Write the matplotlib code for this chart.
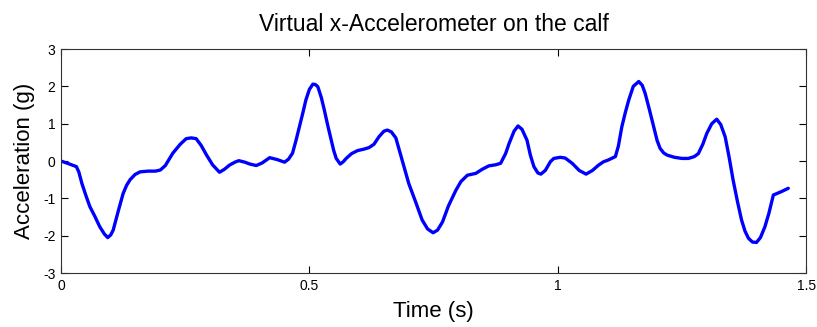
import matplotlib.pyplot as plt
import numpy as np

plt.rcParams['font.family'] = ['Liberation Sans', 'DejaVu Sans']
plt.rcParams['axes.unicode_minus'] = False

# values
time_s = [0.0, 0.015, 0.031, 0.036, 0.042, 0.05, 0.058, 0.068, 0.078, 0.087,
          0.094, 0.1, 0.105, 0.115, 0.125, 0.132, 0.139, 0.149, 0.159, 0.175,
          0.19, 0.2, 0.21, 0.225, 0.24, 0.252, 0.262, 0.272, 0.282, 0.293,
          0.305, 0.319, 0.329, 0.339, 0.35, 0.358, 0.37, 0.38, 0.393, 0.405,
          0.42, 0.435, 0.45, 0.458, 0.466, 0.473, 0.48, 0.487, 0.493, 0.5,
          0.507, 0.512, 0.517, 0.524, 0.53, 0.537, 0.544, 0.549, 0.554, 0.562,
          0.568, 0.574, 0.585, 0.597, 0.61, 0.62, 0.63, 0.64, 0.65, 0.657,
          0.665, 0.674, 0.685, 0.70, 0.714, 0.727, 0.738, 0.749, 0.758, 0.768,
          0.78, 0.795, 0.805, 0.818, 0.835, 0.848, 0.861, 0.875, 0.885, 0.895,
          0.902, 0.912, 0.92, 0.928, 0.938, 0.945, 0.952, 0.96, 0.966, 0.975,
          0.985, 0.992, 1.005, 1.015, 1.029, 1.043, 1.057, 1.07, 1.082, 1.092,
          1.102, 1.116, 1.122, 1.129, 1.136, 1.143, 1.152, 1.163, 1.17, 1.176,
          1.185, 1.193, 1.2, 1.206, 1.213, 1.22, 1.235, 1.25, 1.263, 1.275,
          1.283, 1.292, 1.30, 1.31, 1.32, 1.328, 1.337, 1.345, 1.353, 1.362,
          1.37, 1.377, 1.384, 1.392, 1.40, 1.408, 1.417, 1.425, 1.434, 1.45, 1.464]
accel_g = [0.0, -0.07, -0.15, -0.3, -0.6, -0.92, -1.22, -1.48, -1.76, -1.95,
           -2.05, -1.98, -1.85, -1.35, -0.87, -0.65, -0.5, -0.36, -0.29, -0.27,
           -0.27, -0.24, -0.12, 0.21, 0.45, 0.6, 0.62, 0.6, 0.42, 0.16,
           -0.1, -0.3, -0.22, -0.11, -0.03, 0.01, -0.03, -0.08, -0.12, -0.05,
           0.09, 0.04, -0.03, 0.05, 0.21, 0.55, 0.92, 1.3, 1.64, 1.92,
           2.06, 2.05, 1.99, 1.7, 1.37, 0.95, 0.56, 0.28, 0.07, -0.08,
           -0.02, 0.07, 0.2, 0.28, 0.32, 0.36, 0.45, 0.65, 0.8, 0.83,
           0.78, 0.62, 0.1, -0.6, -1.1, -1.58, -1.82, -1.92, -1.85, -1.63,
           -1.2, -0.78, -0.55, -0.38, -0.33, -0.22, -0.13, -0.1, -0.06, 0.2,
           0.47, 0.8, 0.94, 0.85, 0.56, 0.15, -0.15, -0.32, -0.35, -0.25,
           -0.02, 0.07, 0.1, 0.08, -0.06, -0.25, -0.35, -0.25, -0.11, -0.02,
           0.03, 0.12, 0.4, 0.92, 1.3, 1.64, 2.0, 2.13, 2.03, 1.81,
           1.35, 0.92, 0.55, 0.34, 0.22, 0.16, 0.1, 0.07, 0.07, 0.12,
           0.2, 0.45, 0.74, 1.0, 1.12, 0.98, 0.65, 0.1, -0.51, -1.1,
           -1.58, -1.88, -2.07, -2.17, -2.18, -2.05, -1.76, -1.4, -0.91, -0.82, -0.73]
xticks = [0, 0.5, 1, 1.5]
yticks = [-3, -2, -1, 0, 1, 2, 3]

fig = plt.figure(figsize=(8.17, 3.27), dpi=100)
ax = fig.add_axes([0.0747, 0.165, 0.912, 0.685])
ax.plot(time_s, accel_g, color='#0000ff', linewidth=2.4,
        solid_joinstyle='round', solid_capstyle='round')
ax.set_xlim(0, 1.5)
ax.set_ylim(-3, 3)
ax.set_xticks(xticks)
ax.set_xticklabels(['0', '0.5', '1', '1.5'])
ax.set_yticks(yticks)
ax.tick_params(direction='in', top=True, right=True, length=5, labelsize=10, pad=4)
for s in ax.spines.values():
    s.set_color('#333333')
    s.set_linewidth(0.8)
ax.set_title('Virtual x-Accelerometer on the calf', fontsize=16.5, pad=13)
ax.set_xlabel('Time (s)', fontsize=16, labelpad=6)
ax.set_ylabel('Acceleration (g)', fontsize=16, labelpad=6)
fig.savefig('out.png', dpi=100)
